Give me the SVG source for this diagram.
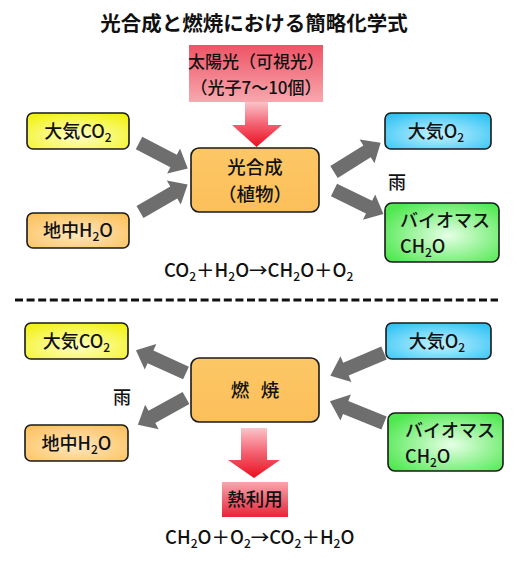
<svg xmlns="http://www.w3.org/2000/svg" xmlns:xlink="http://www.w3.org/1999/xlink" width="530" height="576" viewBox="0 0 530 576">
<style>
text{font-family:"Noto Sans CJK JP","Liberation Sans",sans-serif;fill:#111;font-weight:500;}
.lbl{font-size:18px;text-anchor:middle;}
.big{font-size:18.5px;text-anchor:middle;}
.sub{font-size:12px;}
.box{stroke:#1a1a1a;stroke-width:1.6;}
.eq{font-size:18.5px;}
.rain{font-size:18px;}
</style>
<defs>
<radialGradient id="gY" cx="0.5" cy="0.65" r="0.7"><stop offset="0" stop-color="#ffffc8"/><stop offset="1" stop-color="#f2f21a"/></radialGradient>
<radialGradient id="gO" cx="0.5" cy="0.6" r="0.7"><stop offset="0" stop-color="#ffe6bd"/><stop offset="1" stop-color="#fcc15c"/></radialGradient>
<radialGradient id="gB" cx="0.5" cy="0.6" r="0.7"><stop offset="0" stop-color="#c4f2ff"/><stop offset="1" stop-color="#2ec2f4"/></radialGradient>
<radialGradient id="gG" cx="0.55" cy="0.55" r="0.65"><stop offset="0" stop-color="#e6ffe6"/><stop offset="1" stop-color="#4fe84f"/></radialGradient>
<linearGradient id="gC" x1="0" y1="0" x2="0" y2="1"><stop offset="0" stop-color="#fdc766"/><stop offset="1" stop-color="#fbbf5a"/></linearGradient>
<linearGradient id="gRbox" x1="0" y1="0" x2="0" y2="1"><stop offset="0" stop-color="#ee5466"/><stop offset="1" stop-color="#f7a8ae"/></linearGradient>
<linearGradient id="gRbox2" x1="0" y1="0" x2="0" y2="1"><stop offset="0" stop-color="#f7a6ae"/><stop offset="1" stop-color="#e82438"/></linearGradient>
<linearGradient id="gRarrow" x1="0" y1="0" x2="0" y2="1"><stop offset="0" stop-color="#fbc4ca"/><stop offset="0.5" stop-color="#f46070"/><stop offset="1" stop-color="#ea0f1f"/></linearGradient>
<path id="garrow" d="M0,-7 L39,-7 L39,-14 L55,0 L39,14 L39,7 L0,7 Z" fill="#6e6e6e"/>
</defs>
<rect width="530" height="576" fill="#ffffff"/>

<text id="title" x="254" y="31" style="font-size:20.5px;font-weight:bold;text-anchor:middle;">光合成と燃焼における簡略化学式</text>

<g id="connectors">
<use xlink:href="#garrow" transform="translate(139,143) rotate(27.5)"/>
<use xlink:href="#garrow" transform="translate(140,212) rotate(-30)"/>
<use xlink:href="#garrow" transform="translate(334,172) rotate(-32)"/>
<use xlink:href="#garrow" transform="translate(334,190) rotate(26)"/>
<use xlink:href="#garrow" transform="translate(186,373) rotate(204.5)"/>
<use xlink:href="#garrow" transform="translate(186,398) rotate(151)"/>
<use xlink:href="#garrow" transform="translate(384,353) rotate(157) scale(1.06,1)"/>
<use xlink:href="#garrow" transform="translate(384,423) rotate(202) scale(1.06,1)"/>
<path d="M245,102 L268,102 L268,125 L282,125 L256.5,147 L232,125 L245,125 Z" fill="url(#gRarrow)"/>
<path d="M241,428 L267,428 L267,460 L280,460 L254,478 L228,460 L241,460 Z" fill="url(#gRarrow)"/>
</g>

<g id="sunlight">
<rect x="189" y="45" width="134" height="57" fill="url(#gRbox)"/>
<text class="lbl" x="256" y="68" style="font-size:17px;">太陽光（可視光）</text>
<text class="lbl" x="256" y="94" style="font-size:17px;">（光子7～10個）</text>
</g>

<g id="co2-top">
<rect class="box" x="27" y="113" width="102" height="36" rx="6" fill="url(#gY)"/>
<text class="lbl" x="78" y="138">大気CO<tspan class="sub" dy="4">2</tspan></text>
</g>
<g id="h2o-top">
<rect class="box" x="27" y="213" width="102" height="35" rx="6" fill="url(#gO)"/>
<text class="lbl" x="78" y="237">地中H<tspan class="sub" dy="4">2</tspan><tspan dy="-4">O</tspan></text>
</g>
<g id="photosynthesis">
<rect class="box" x="191" y="148" width="128" height="64" rx="8" fill="url(#gC)"/>
<text class="big" x="255" y="174">光合成</text>
<text class="big" x="255" y="201">（植物）</text>
</g>
<g id="o2-top">
<rect class="box" x="385" y="113" width="106" height="36" rx="6" fill="url(#gB)"/>
<text class="lbl" x="436" y="138">大気O<tspan class="sub" dy="4">2</tspan></text>
</g>
<text id="rain-top" class="rain" x="388" y="189">雨</text>
<g id="biomass-top">
<rect class="box" x="385" y="203" width="114" height="59" rx="7" fill="url(#gG)"/>
<text x="400" y="227" style="font-size:18px;">バイオマス</text>
<text x="400" y="253" style="font-size:18px;">CH<tspan class="sub" dy="4">2</tspan><tspan dy="-4">O</tspan></text>
</g>

<text id="eq-top" class="eq" x="164" y="277">CO<tspan class="sub" dy="4">2</tspan><tspan dy="-4">＋H</tspan><tspan class="sub" dy="4">2</tspan><tspan dy="-4">O→CH</tspan><tspan class="sub" dy="4">2</tspan><tspan dy="-4">O＋O</tspan><tspan class="sub" dy="4">2</tspan></text>

<line id="divider" x1="15" y1="300" x2="498" y2="300" stroke="#111" stroke-width="3" stroke-dasharray="8 3.6"/>

<g id="co2-bottom">
<rect class="box" x="25" y="323" width="103" height="36" rx="6" fill="url(#gY)"/>
<text class="lbl" x="76.5" y="348">大気CO<tspan class="sub" dy="4">2</tspan></text>
</g>
<text id="rain-bottom" class="rain" x="113" y="404">雨</text>
<g id="h2o-bottom">
<rect class="box" x="25" y="425" width="103" height="36" rx="6" fill="url(#gO)"/>
<text class="lbl" x="76.5" y="450">地中H<tspan class="sub" dy="4">2</tspan><tspan dy="-4">O</tspan></text>
</g>
<g id="combustion">
<rect class="box" x="191" y="358" width="128" height="64" rx="8" fill="url(#gC)"/>
<text class="big" x="255" y="397"><tspan x="240">燃</tspan><tspan x="270">焼</tspan></text>
</g>
<g id="o2-bottom">
<rect class="box" x="386" y="323" width="105" height="36" rx="6" fill="url(#gB)"/>
<text class="lbl" x="437" y="348">大気O<tspan class="sub" dy="4">2</tspan></text>
</g>
<g id="biomass-bottom">
<rect class="box" x="388" y="413" width="115" height="58" rx="7" fill="url(#gG)"/>
<text x="405" y="437" style="font-size:18px;">バイオマス</text>
<text x="405" y="463" style="font-size:18px;">CH<tspan class="sub" dy="4">2</tspan><tspan dy="-4">O</tspan></text>
</g>
<g id="heat">
<rect x="222" y="482" width="66" height="35" fill="url(#gRbox2)"/>
<text class="big" x="255" y="506">熱利用</text>
</g>
<text id="eq-bottom" class="eq" x="165" y="544">CH<tspan class="sub" dy="4">2</tspan><tspan dy="-4">O＋O</tspan><tspan class="sub" dy="4">2</tspan><tspan dy="-4">→CO</tspan><tspan class="sub" dy="4">2</tspan><tspan dy="-4">＋H</tspan><tspan class="sub" dy="4">2</tspan><tspan dy="-4">O</tspan></text>
</svg>
